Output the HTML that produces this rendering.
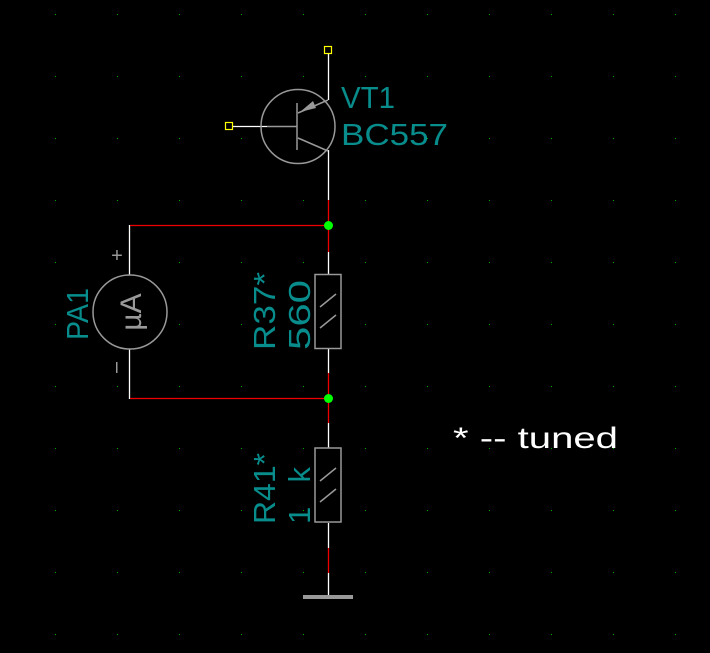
<!DOCTYPE html>
<html><head><style>html,body{margin:0;padding:0;background:#000;}svg{display:block}</style></head>
<body>
<svg width="710" height="653" viewBox="0 0 710 653" xmlns="http://www.w3.org/2000/svg" font-family="Liberation Sans, sans-serif">
<rect width="710" height="653" fill="#000"/>
<g fill="#0a0">
<rect x="55" y="14" width="1" height="1"/><rect x="117" y="14" width="1" height="1"/><rect x="179" y="14" width="1" height="1"/><rect x="241" y="14" width="1" height="1"/><rect x="303" y="14" width="1" height="1"/><rect x="365" y="14" width="1" height="1"/><rect x="427" y="14" width="1" height="1"/><rect x="489" y="14" width="1" height="1"/><rect x="551" y="14" width="1" height="1"/><rect x="613" y="14" width="1" height="1"/><rect x="675" y="14" width="1" height="1"/>
<rect x="55" y="76" width="1" height="1"/><rect x="117" y="76" width="1" height="1"/><rect x="179" y="76" width="1" height="1"/><rect x="241" y="76" width="1" height="1"/><rect x="303" y="76" width="1" height="1"/><rect x="365" y="76" width="1" height="1"/><rect x="427" y="76" width="1" height="1"/><rect x="489" y="76" width="1" height="1"/><rect x="551" y="76" width="1" height="1"/><rect x="613" y="76" width="1" height="1"/><rect x="675" y="76" width="1" height="1"/>
<rect x="55" y="138" width="1" height="1"/><rect x="117" y="138" width="1" height="1"/><rect x="179" y="138" width="1" height="1"/><rect x="241" y="138" width="1" height="1"/><rect x="427" y="138" width="1" height="1"/><rect x="489" y="138" width="1" height="1"/><rect x="551" y="138" width="1" height="1"/><rect x="613" y="138" width="1" height="1"/><rect x="675" y="138" width="1" height="1"/>
<rect x="55" y="200" width="1" height="1"/><rect x="117" y="200" width="1" height="1"/><rect x="179" y="200" width="1" height="1"/><rect x="241" y="200" width="1" height="1"/><rect x="303" y="200" width="1" height="1"/><rect x="365" y="200" width="1" height="1"/><rect x="427" y="200" width="1" height="1"/><rect x="489" y="200" width="1" height="1"/><rect x="551" y="200" width="1" height="1"/><rect x="613" y="200" width="1" height="1"/><rect x="675" y="200" width="1" height="1"/>
<rect x="55" y="262" width="1" height="1"/><rect x="179" y="262" width="1" height="1"/><rect x="241" y="262" width="1" height="1"/><rect x="303" y="262" width="1" height="1"/><rect x="365" y="262" width="1" height="1"/><rect x="427" y="262" width="1" height="1"/><rect x="489" y="262" width="1" height="1"/><rect x="551" y="262" width="1" height="1"/><rect x="613" y="262" width="1" height="1"/><rect x="675" y="262" width="1" height="1"/>
<rect x="55" y="324" width="1" height="1"/><rect x="179" y="324" width="1" height="1"/><rect x="241" y="324" width="1" height="1"/><rect x="365" y="324" width="1" height="1"/><rect x="427" y="324" width="1" height="1"/><rect x="489" y="324" width="1" height="1"/><rect x="551" y="324" width="1" height="1"/><rect x="613" y="324" width="1" height="1"/><rect x="675" y="324" width="1" height="1"/>
<rect x="55" y="386" width="1" height="1"/><rect x="117" y="386" width="1" height="1"/><rect x="179" y="386" width="1" height="1"/><rect x="241" y="386" width="1" height="1"/><rect x="303" y="386" width="1" height="1"/><rect x="365" y="386" width="1" height="1"/><rect x="427" y="386" width="1" height="1"/><rect x="489" y="386" width="1" height="1"/><rect x="551" y="386" width="1" height="1"/><rect x="613" y="386" width="1" height="1"/><rect x="675" y="386" width="1" height="1"/>
<rect x="55" y="448" width="1" height="1"/><rect x="117" y="448" width="1" height="1"/><rect x="179" y="448" width="1" height="1"/><rect x="241" y="448" width="1" height="1"/><rect x="303" y="448" width="1" height="1"/><rect x="365" y="448" width="1" height="1"/><rect x="427" y="448" width="1" height="1"/><rect x="489" y="448" width="1" height="1"/><rect x="551" y="448" width="1" height="1"/><rect x="613" y="448" width="1" height="1"/><rect x="675" y="448" width="1" height="1"/>
<rect x="55" y="510" width="1" height="1"/><rect x="117" y="510" width="1" height="1"/><rect x="179" y="510" width="1" height="1"/><rect x="241" y="510" width="1" height="1"/><rect x="303" y="510" width="1" height="1"/><rect x="365" y="510" width="1" height="1"/><rect x="427" y="510" width="1" height="1"/><rect x="489" y="510" width="1" height="1"/><rect x="551" y="510" width="1" height="1"/><rect x="613" y="510" width="1" height="1"/><rect x="675" y="510" width="1" height="1"/>
<rect x="55" y="572" width="1" height="1"/><rect x="117" y="572" width="1" height="1"/><rect x="179" y="572" width="1" height="1"/><rect x="241" y="572" width="1" height="1"/><rect x="303" y="572" width="1" height="1"/><rect x="365" y="572" width="1" height="1"/><rect x="427" y="572" width="1" height="1"/><rect x="489" y="572" width="1" height="1"/><rect x="551" y="572" width="1" height="1"/><rect x="613" y="572" width="1" height="1"/><rect x="675" y="572" width="1" height="1"/>
<rect x="55" y="634" width="1" height="1"/><rect x="117" y="634" width="1" height="1"/><rect x="179" y="634" width="1" height="1"/><rect x="241" y="634" width="1" height="1"/><rect x="303" y="634" width="1" height="1"/><rect x="365" y="634" width="1" height="1"/><rect x="427" y="634" width="1" height="1"/><rect x="489" y="634" width="1" height="1"/><rect x="551" y="634" width="1" height="1"/><rect x="613" y="634" width="1" height="1"/><rect x="675" y="634" width="1" height="1"/>
</g>

<g stroke="#fff" stroke-width="1.3" fill="none">
<line x1="328.5" y1="54" x2="328.5" y2="100"/>
<line x1="328.5" y1="150" x2="328.5" y2="200"/>
<line x1="233" y1="126.5" x2="267" y2="126.5"/>
<line x1="328.5" y1="252" x2="328.5" y2="274"/>
<line x1="328.5" y1="349" x2="328.5" y2="373"/>
<line x1="328.5" y1="423" x2="328.5" y2="448"/>
<line x1="328.5" y1="523" x2="328.5" y2="548"/>
<line x1="328.5" y1="573" x2="328.5" y2="597"/>
<line x1="129.5" y1="225" x2="129.5" y2="275"/>
<line x1="129.5" y1="349" x2="129.5" y2="399"/>
</g>
<g stroke="#e00" stroke-width="1.3" fill="none">
<line x1="328.5" y1="200" x2="328.5" y2="252"/>
<line x1="328.5" y1="373" x2="328.5" y2="423"/>
<line x1="328.5" y1="548" x2="328.5" y2="573"/>
<line x1="130" y1="225.5" x2="328" y2="225.5"/>
<line x1="130" y1="398.5" x2="328" y2="398.5"/>
</g>
<circle cx="328.5" cy="225.5" r="4.5" fill="#0f0"/>
<circle cx="328.5" cy="398.5" r="4.5" fill="#0f0"/>

<rect x="324.5" y="46.5" width="7" height="7" fill="none" stroke="#ff0" stroke-width="1.2"/>
<rect x="225.5" y="122.5" width="7" height="7" fill="none" stroke="#ff0" stroke-width="1.2"/>

<g stroke="#999" stroke-width="1.5" fill="none">
<circle cx="298" cy="126.5" r="37"/>
<line x1="267" y1="126.5" x2="297" y2="126.5"/>
<line x1="297" y1="103" x2="297" y2="150"/>
<line x1="298" y1="113" x2="328" y2="100"/>
<line x1="298" y1="138" x2="328" y2="151"/>
</g>
<polygon points="300,112 313,101 316,108" fill="#999"/>

<circle cx="130" cy="312" r="37" fill="none" stroke="#999" stroke-width="1.5"/>
<text transform="translate(141,312) rotate(-90)" text-anchor="middle" font-size="30" fill="#999">µA</text>
<text x="117" y="262" text-anchor="middle" font-size="20" fill="#999">+</text>
<rect x="116" y="362" width="1.5" height="11" fill="#999"/>

<g stroke="#999" stroke-width="1.5" fill="none">
<rect x="315" y="274.5" width="26" height="74"/>
<line x1="320" y1="307" x2="336" y2="294"/>
<line x1="320" y1="328" x2="336" y2="315"/>
<rect x="315" y="448" width="26" height="74"/>
<line x1="320" y1="481" x2="336" y2="468"/>
<line x1="320" y1="502" x2="336" y2="489"/>
</g>
<rect x="303" y="595" width="50" height="4" fill="#999"/>

<g fill="#088c8c" font-size="31">
<text x="341" y="108" textLength="54" lengthAdjust="spacingAndGlyphs">VT1</text>
<text x="341" y="145" textLength="107" lengthAdjust="spacingAndGlyphs">BC557</text>
<text transform="translate(88,340) rotate(-90)" textLength="52" lengthAdjust="spacingAndGlyphs">PA1</text>
<text transform="translate(275,350) rotate(-90)" textLength="78" lengthAdjust="spacingAndGlyphs">R37*</text>
<text transform="translate(310,350) rotate(-90)" textLength="70" lengthAdjust="spacingAndGlyphs">560</text>
<text transform="translate(275,524) rotate(-90)" textLength="71" lengthAdjust="spacingAndGlyphs">R41*</text>
<text transform="translate(310,524) rotate(-90)" textLength="57" lengthAdjust="spacing">1k</text>
</g>
<text x="453" y="448" font-size="30" fill="#fff" textLength="165" lengthAdjust="spacingAndGlyphs">* -- tuned</text>
</svg>
</body></html>
